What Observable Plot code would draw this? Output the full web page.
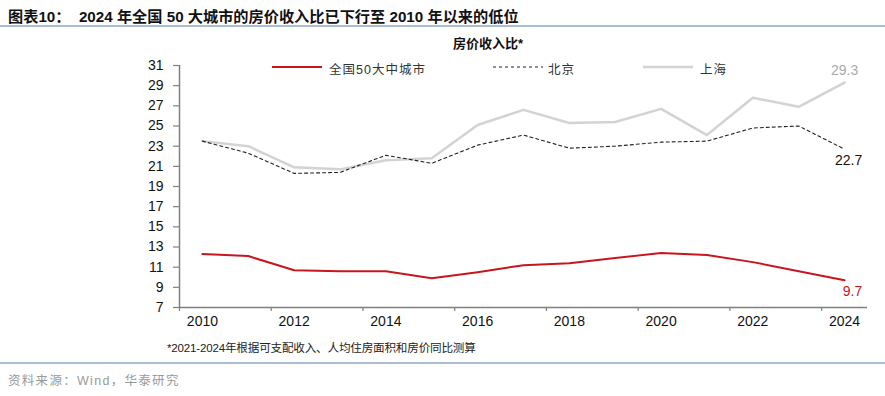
<!DOCTYPE html>
<html>
<head>
<meta charset="utf-8">
<script src="https://cdn.jsdelivr.net/npm/d3@7"></script>
<script src="https://cdn.jsdelivr.net/npm/@observablehq/plot@0.6"></script>
<style>
  html, body { margin: 0; padding: 0; background: #fff; }
  #wrap { position: relative; width: 885px; height: 396px; overflow: hidden; background: #fff;
          font-family: "Liberation Sans", "Noto Sans CJK SC", sans-serif; }
  .abs { position: absolute; white-space: nowrap; }
  #title { left: 8px; top: 4px; font-size: 15.2px; font-weight: bold; color: #111; }
  .hr { position: absolute; left: 0; width: 885px; height: 2px; background: #a9bdd6; }
  #sub { left: 453px; top: 33px; font-size: 13px; font-weight: bold; color: #111; }
  #foot { left: 167px; top: 339px; font-size: 11.6px; color: #222; letter-spacing: -0.2px; }
  #src { left: 8px; top: 370px; font-size: 12.5px; color: #9a9a9a; letter-spacing: 1.3px; }
  #chart { position: absolute; left: 0; top: 50px; }
  .leg { position: absolute; top: 59px; font-size: 12.5px; color: #333; letter-spacing: 1px; }
  .sw { position: absolute; }
</style>
</head>
<body>
<div id="wrap">
  <div id="title" class="abs">图表10：&nbsp;&nbsp;2024 年全国 50 大城市的房价收入比已下行至 2010 年以来的低位</div>
  <div class="hr" style="top:25px"></div>
  <div id="sub" class="abs">房价收入比*</div>
  <div id="chart"></div>
  <div id="legend"></div>
  <div id="foot" class="abs">*2021-2024年根据可支配收入、人均住房面积和房价同比测算</div>
  <div class="hr" style="top:362px"></div>
  <div id="src" class="abs">资料来源：Wind，华泰研究</div>
</div>
<script>
// ---- data ----
const years = [2010, 2011, 2012, 2013, 2014, 2015, 2016, 2017, 2018, 2019, 2020, 2021, 2022, 2023, 2024];
const national = [12.3, 12.1, 10.7, 10.6, 10.6, 9.9, 10.5, 11.2, 11.4, 11.9, 12.4, 12.2, 11.5, 10.6, 9.7];
const beijing  = [23.5, 22.3, 20.3, 20.4, 22.1, 21.3, 23.1, 24.1, 22.8, 23.0, 23.4, 23.5, 24.8, 25.0, 22.7];
const shanghai = [23.5, 23.0, 20.9, 20.7, 21.6, 21.8, 25.1, 26.6, 25.3, 25.4, 26.7, 24.1, 27.8, 26.9, 29.3];
const seriesNames = ["全国50大中城市", "北京", "上海"];
const yTicks = [7, 9, 11, 13, 15, 17, 19, 21, 23, 25, 27, 29, 31];
const xLabelYears = [2010, 2012, 2014, 2016, 2018, 2020, 2022, 2024];

const natData = years.map((y, i) => ({year: y, v: national[i]}));
const bjData = years.map((y, i) => ({year: y, v: beijing[i]}));
const shData = years.map((y, i) => ({year: y, v: shanghai[i]}));
const last = years.length - 1;
const boundaries = xLabelYears.map(y => y - 0.5);

const axisColor = "#808080";
const chart = Plot.plot({
  width: 885,
  height: 290,
  marginTop: 15,
  marginBottom: 33,
  marginLeft: 179,
  marginRight: 18,
  style: {fontFamily: "'Liberation Sans', Arial, sans-serif", fontSize: "14px", color: "#111", background: "transparent"},
  x: {domain: [2009.5, 2024.5]},
  y: {domain: [7, 31]},
  marks: [
    Plot.axisY({ticks: yTicks, tickSize: 6, tickPadding: 10, stroke: axisColor, strokeWidth: 1.2, label: null, fontSize: 14, fill: "#111"}),
    Plot.axisX({ticks: xLabelYears, tickSize: 0, tickPadding: 9, tickFormat: d => String(d), label: null, fontSize: 14, fill: "#111"}),
    Plot.axisX({ticks: boundaries, tickSize: 4, tickFormat: () => "", label: null, stroke: axisColor, strokeWidth: 1.2}),
    Plot.ruleX([2009.5], {stroke: axisColor, strokeWidth: 1.5}),
    Plot.ruleY([7], {stroke: axisColor, strokeWidth: 1.5}),
    Plot.line(shData, {x: "year", y: "v", stroke: "#d3d3d3", strokeWidth: 2.5}),
    Plot.line(bjData, {x: "year", y: "v", stroke: "#222", strokeWidth: 1.1, strokeDasharray: "3,3"}),
    Plot.line(natData, {x: "year", y: "v", stroke: "#c8161d", strokeWidth: 2}),
    Plot.text([shData[last]], {x: "year", y: "v", text: d => d.v.toFixed(1), dy: -12, dx: 0, fill: "#aaaaaa", fontSize: 14}),
    Plot.text([bjData[last]], {x: "year", y: "v", text: d => d.v.toFixed(1), dy: 11, dx: 4, fill: "#111", fontSize: 14}),
    Plot.text([natData[last]], {x: "year", y: "v", text: d => d.v.toFixed(1), dy: 11, dx: 8, fill: "#c8161d", fontSize: 14})
  ]
});
document.getElementById("chart").appendChild(chart);

// ---- legend ----
const legend = document.getElementById("legend");
const legItems = [
  {name: seriesNames[0], x: 272, text: 329, stroke: "#c8161d", w: 2, dash: null},
  {name: seriesNames[1], x: 493, text: 548, stroke: "#222", w: 1.1, dash: "3,3"},
  {name: seriesNames[2], x: 643, text: 700, stroke: "#d3d3d3", w: 2.5, dash: null}
];
const ns = "http://www.w3.org/2000/svg";
for (const it of legItems) {
  const s = document.createElementNS(ns, "svg");
  s.setAttribute("width", 52); s.setAttribute("height", 6);
  s.setAttribute("class", "sw");
  s.style.left = it.x + "px"; s.style.top = "64px";
  const l = document.createElementNS(ns, "line");
  l.setAttribute("x1", 0); l.setAttribute("x2", 50); l.setAttribute("y1", 3); l.setAttribute("y2", 3);
  l.setAttribute("stroke", it.stroke); l.setAttribute("stroke-width", it.w);
  if (it.dash) l.setAttribute("stroke-dasharray", it.dash);
  s.appendChild(l);
  legend.appendChild(s);
  const t = document.createElement("div");
  t.className = "leg"; t.style.left = it.text + "px"; t.textContent = it.name;
  legend.appendChild(t);
}
</script>
</body>
</html>
